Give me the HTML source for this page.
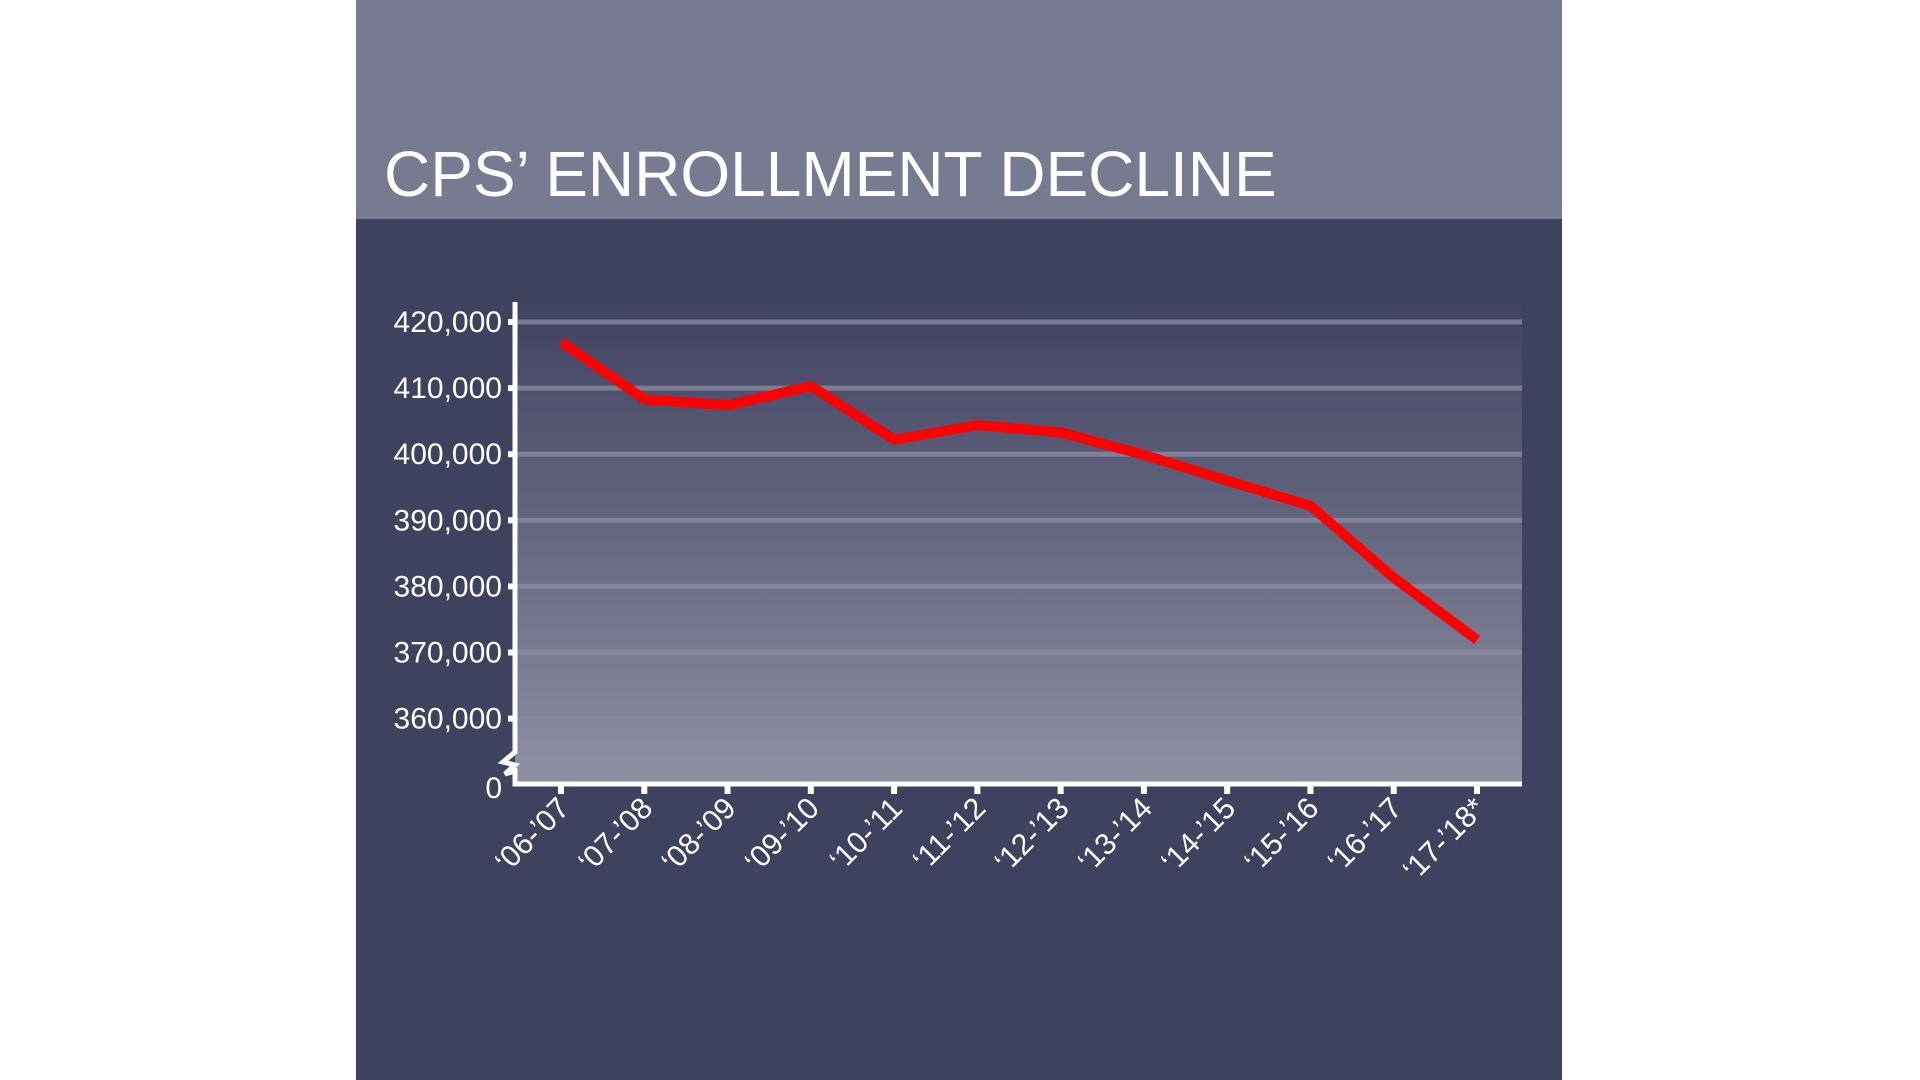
<!DOCTYPE html>
<html><head><meta charset="utf-8"><style>
html,body{margin:0;padding:0;background:#fff;width:1920px;height:1080px;overflow:hidden}
svg{display:block}
text{font-family:"Liberation Sans",Arial,sans-serif;fill:#fff}
</style></head><body>
<svg width="1920" height="1080">
<defs><linearGradient id="pg" x1="0" y1="0" x2="0" y2="1"><stop offset="0" stop-color="#3f4260"/><stop offset="1" stop-color="#8f90a4"/></linearGradient></defs>
<rect x="356" y="0" width="1206" height="1080" fill="#3f425e"/>
<rect x="356" y="0" width="1206" height="219" fill="#787a91"/>
<text x="384" y="196" font-size="64">CPS’ ENROLLMENT DECLINE</text>
<g id="chart"></g>
</svg>
<script>
const categories=["‘06-’07","‘07-’08","‘08-’09","‘09-’10","‘10-’11","‘11-’12","‘12-’13","‘13-’14","‘14-’15","‘15-’16","‘16-’17","‘17-’18*"];
const enrollment=[417000,408300,407400,410300,402200,404400,403300,399900,396000,392200,381300,371900];
const yTicks=[360000,370000,380000,390000,400000,410000,420000];
const yTickLabels=["360,000","370,000","380,000","390,000","400,000","410,000","420,000"];
const NS="http://www.w3.org/2000/svg";
const g=document.getElementById('chart');
const axX=515,plotR=1522,baseY=784,x0=561,xStep=(1477-561)/11;
function y(v){return 322+(420000-v)/10000*66.1;}
function x(i){return x0+i*xStep;}
function mk(t,a,p){const e=document.createElementNS(NS,t);for(const k in a)e.setAttribute(k,a[k]);(p||g).appendChild(e);return e;}
let e=mk('rect',{x:axX,y:302,width:plotR-axX,height:baseY-302,fill:'url(#pg)'});


yTicks.forEach((v,i)=>{
 let l=mk('line',{x1:axX,x2:plotR,y1:y(v),y2:y(v),stroke:'#8a8ca2','stroke-width':5,'stroke-opacity':0.75});
 
 
 let t=mk('line',{x1:axX-7,x2:axX,y1:y(v),y2:y(v),stroke:'#fff','stroke-width':6});
 
 
 let tx=mk('text',{x:axX-13,y:y(v)+10,'font-size':30,'text-anchor':'end'});tx.textContent=yTickLabels[i];
 
 
});
let z=mk('text',{x:axX-13,y:baseY+14,'font-size':30,'text-anchor':'end'});z.textContent="0";


let ax=mk('path',{d:`M${axX} 302 V752 L${axX-12} 762 L${axX} 765 L${axX-10} 774 L${axX} 771 V${baseY} H${plotR}`,fill:'none',stroke:'#fff','stroke-width':5});


categories.forEach((c,i)=>{
 let t=mk('line',{x1:x(i),x2:x(i),y1:baseY,y2:baseY+10,stroke:'#fff','stroke-width':6});
 
 
 let tx=mk('text',{x:x(i)+10,y:baseY+26,'font-size':30,'text-anchor':'end',transform:`rotate(-45 ${x(i)+10} ${baseY+26})`});tx.textContent=c;
 
 
});
let pl=mk('polyline',{points:enrollment.map((v,i)=>x(i)+','+y(v)).join(' '),fill:'none',stroke:'#ff0000','stroke-width':10,'stroke-linejoin':'round'});


</script>
</body></html>
